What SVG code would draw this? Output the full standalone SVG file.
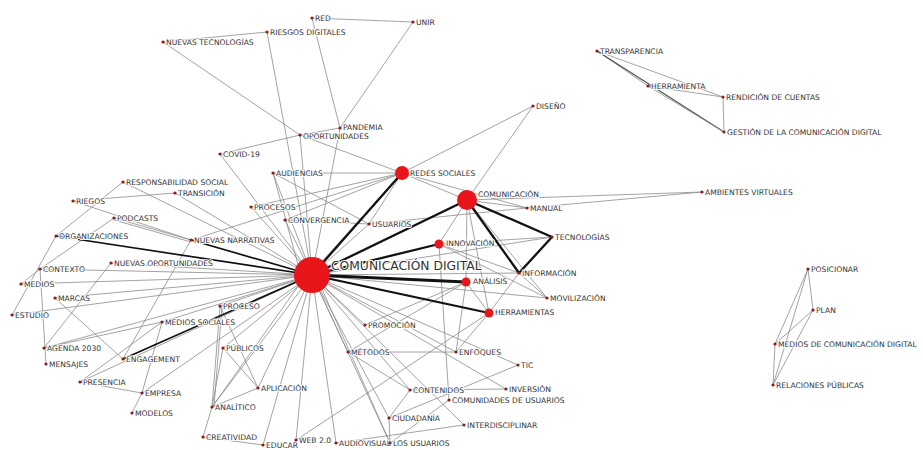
<svg xmlns="http://www.w3.org/2000/svg" width="923" height="450" viewBox="0 0 923 450">
<style>
.t{stroke:#8c8c8c;stroke-width:0.8;fill:none}
.k{stroke:#111;stroke-width:2.3;fill:none}
.g{stroke:#555;stroke-width:1.3;fill:none}
.l{font-family:"DejaVu Sans",Verdana,sans-serif;font-size:7.6px;fill:#333;stroke:#fff;stroke-width:2;paint-order:stroke;stroke-linejoin:round}
.big{font-family:"DejaVu Sans",Verdana,sans-serif;font-size:12.3px;fill:#333;stroke:#fff;stroke-width:2;paint-order:stroke}
.d{fill:#8b1c1c}
.r{fill:#e8161b}
</style>
<rect width="923" height="450" fill="#fff"/>
<g id="connectors">
<line class="t" x1="312" y1="18" x2="413" y2="22"/>
<line class="t" x1="312" y1="18" x2="340" y2="128"/>
<line class="t" x1="413" y1="22" x2="340" y2="128"/>
<line class="t" x1="267" y1="32" x2="163" y2="42"/>
<line class="t" x1="267" y1="32" x2="312" y2="275"/>
<line class="t" x1="163" y1="42" x2="300" y2="135"/>
<line class="t" x1="300" y1="135" x2="340" y2="128"/>
<line class="t" x1="300" y1="135" x2="402" y2="173"/>
<line class="t" x1="300" y1="135" x2="312" y2="275"/>
<line class="t" x1="340" y1="128" x2="312" y2="275"/>
<line class="t" x1="220" y1="154" x2="300" y2="135"/>
<line class="t" x1="220" y1="154" x2="312" y2="275"/>
<line class="t" x1="273" y1="173" x2="402" y2="173"/>
<line class="t" x1="273" y1="173" x2="312" y2="275"/>
<line class="t" x1="273" y1="173" x2="300" y2="272"/>
<line class="t" x1="273" y1="173" x2="369" y2="224"/>
<line class="t" x1="533" y1="106" x2="402" y2="173"/>
<line class="t" x1="533" y1="106" x2="467" y2="200"/>
<line class="t" x1="402" y1="173" x2="467" y2="200"/>
<line class="t" x1="402" y1="173" x2="527" y2="208"/>
<line class="t" x1="402" y1="173" x2="251" y2="207"/>
<line class="t" x1="402" y1="173" x2="285" y2="220"/>
<line class="t" x1="402" y1="173" x2="191" y2="240"/>
<line class="t" x1="402" y1="173" x2="369" y2="224"/>
<line class="t" x1="402" y1="173" x2="316" y2="268"/>
<line class="t" x1="467" y1="200" x2="527" y2="208"/>
<line class="t" x1="467" y1="200" x2="702" y2="192"/>
<line class="t" x1="527" y1="208" x2="702" y2="192"/>
<line class="t" x1="467" y1="200" x2="466" y2="282"/>
<line class="t" x1="467" y1="200" x2="489" y2="313"/>
<line class="t" x1="467" y1="200" x2="547" y2="298"/>
<line class="t" x1="467" y1="200" x2="439" y2="244"/>
<line class="t" x1="439" y1="244" x2="552" y2="237"/>
<line class="t" x1="439" y1="244" x2="519" y2="273"/>
<line class="t" x1="439" y1="244" x2="449" y2="400"/>
<line class="t" x1="439" y1="244" x2="547" y2="298"/>
<line class="t" x1="312" y1="275" x2="552" y2="237"/>
<line class="t" x1="312" y1="275" x2="519" y2="273"/>
<line class="t" x1="312" y1="275" x2="547" y2="298"/>
<line class="t" x1="369" y1="224" x2="527" y2="208"/>
<line class="t" x1="466" y1="282" x2="489" y2="313"/>
<line class="t" x1="466" y1="282" x2="348" y2="352"/>
<line class="t" x1="466" y1="282" x2="456" y2="352"/>
<line class="t" x1="466" y1="282" x2="365" y2="325"/>
<line class="t" x1="489" y1="313" x2="296" y2="440"/>
<line class="t" x1="489" y1="313" x2="456" y2="352"/>
<line class="t" x1="489" y1="313" x2="519" y2="273"/>
<line class="t" x1="519" y1="273" x2="547" y2="298"/>
<line class="t" x1="348" y1="352" x2="456" y2="352"/>
<line class="t" x1="348" y1="352" x2="410" y2="390"/>
<line class="t" x1="348" y1="352" x2="312" y2="275"/>
<line class="t" x1="365" y1="325" x2="312" y2="275"/>
<line class="t" x1="456" y1="352" x2="312" y2="275"/>
<line class="t" x1="518" y1="365" x2="312" y2="275"/>
<line class="t" x1="518" y1="365" x2="389" y2="418"/>
<line class="t" x1="410" y1="390" x2="506" y2="389"/>
<line class="t" x1="410" y1="390" x2="389" y2="418"/>
<line class="t" x1="410" y1="390" x2="312" y2="275"/>
<line class="t" x1="506" y1="389" x2="312" y2="275"/>
<line class="t" x1="449" y1="400" x2="390" y2="443"/>
<line class="t" x1="464" y1="425" x2="312" y2="275"/>
<line class="t" x1="464" y1="425" x2="336" y2="443"/>
<line class="t" x1="389" y1="418" x2="312" y2="275"/>
<line class="t" x1="389" y1="418" x2="390" y2="443"/>
<line class="t" x1="390" y1="443" x2="312" y2="275"/>
<line class="t" x1="390" y1="443" x2="318" y2="280"/>
<line class="t" x1="336" y1="443" x2="312" y2="275"/>
<line class="t" x1="296" y1="440" x2="312" y2="275"/>
<line class="t" x1="263" y1="445" x2="312" y2="275"/>
<line class="t" x1="203" y1="437" x2="263" y2="445"/>
<line class="t" x1="203" y1="437" x2="212" y2="407"/>
<line class="t" x1="123" y1="182" x2="312" y2="275"/>
<line class="t" x1="123" y1="182" x2="56" y2="236"/>
<line class="t" x1="73" y1="201" x2="175" y2="193"/>
<line class="t" x1="73" y1="201" x2="191" y2="240"/>
<line class="t" x1="175" y1="193" x2="312" y2="275"/>
<line class="t" x1="114" y1="218" x2="191" y2="240"/>
<line class="t" x1="114" y1="220" x2="191" y2="242"/>
<line class="t" x1="114" y1="218" x2="40" y2="269"/>
<line class="t" x1="56" y1="236" x2="12" y2="315"/>
<line class="t" x1="191" y1="240" x2="123" y2="359"/>
<line class="t" x1="111" y1="263" x2="312" y2="275"/>
<line class="t" x1="111" y1="263" x2="44" y2="348"/>
<line class="t" x1="40" y1="269" x2="312" y2="275"/>
<line class="t" x1="40" y1="269" x2="21" y2="284"/>
<line class="t" x1="40" y1="269" x2="46" y2="364"/>
<line class="t" x1="21" y1="284" x2="312" y2="275"/>
<line class="t" x1="55" y1="298" x2="312" y2="275"/>
<line class="t" x1="55" y1="298" x2="123" y2="359"/>
<line class="t" x1="12" y1="315" x2="312" y2="275"/>
<line class="t" x1="44" y1="348" x2="162" y2="322"/>
<line class="t" x1="44" y1="348" x2="312" y2="275"/>
<line class="t" x1="162" y1="322" x2="312" y2="275"/>
<line class="t" x1="162" y1="322" x2="142" y2="393"/>
<line class="t" x1="162" y1="322" x2="80" y2="382"/>
<line class="t" x1="80" y1="382" x2="142" y2="393"/>
<line class="t" x1="80" y1="382" x2="312" y2="275"/>
<line class="t" x1="142" y1="393" x2="312" y2="275"/>
<line class="t" x1="142" y1="393" x2="132" y2="413"/>
<line class="t" x1="220" y1="306" x2="312" y2="275"/>
<line class="t" x1="220" y1="306" x2="212" y2="407"/>
<line class="t" x1="222" y1="306" x2="214" y2="407"/>
<line class="t" x1="220" y1="306" x2="258" y2="388"/>
<line class="t" x1="223" y1="348" x2="312" y2="275"/>
<line class="t" x1="223" y1="348" x2="258" y2="388"/>
<line class="t" x1="223" y1="348" x2="212" y2="407"/>
<line class="t" x1="212" y1="407" x2="258" y2="388"/>
<line class="t" x1="212" y1="407" x2="312" y2="275"/>
<line class="t" x1="212" y1="407" x2="304" y2="278"/>
<line class="t" x1="258" y1="388" x2="312" y2="275"/>
<line class="t" x1="251" y1="207" x2="312" y2="275"/>
<line class="t" x1="285" y1="220" x2="312" y2="275"/>
<line class="t" x1="285" y1="220" x2="369" y2="224"/>
<line class="t" x1="369" y1="224" x2="312" y2="275"/>
<line class="t" x1="597" y1="51" x2="648" y2="86"/>
<line class="t" x1="597" y1="51" x2="723" y2="97"/>
<line class="g" x1="597" y1="51" x2="724" y2="132"/>
<line class="t" x1="648" y1="86" x2="723" y2="97"/>
<line class="t" x1="648" y1="86" x2="724" y2="132"/>
<line class="t" x1="723" y1="97" x2="724" y2="132"/>
<line class="t" x1="808" y1="269" x2="813" y2="310"/>
<line class="t" x1="808" y1="269" x2="775" y2="344"/>
<line class="t" x1="808" y1="269" x2="773" y2="385"/>
<line class="t" x1="813" y1="310" x2="775" y2="344"/>
<line class="t" x1="813" y1="310" x2="773" y2="385"/>
<line class="t" x1="775" y1="344" x2="773" y2="385"/>
<line class="k" x1="312" y1="275" x2="402" y2="173"/>
<line class="k" x1="312" y1="275" x2="467" y2="200"/>
<line class="k" x1="312" y1="275" x2="439" y2="244"/>
<line class="k" x1="312" y1="275" x2="466" y2="282" style="stroke-width:3"/>
<line class="k" x1="312" y1="275" x2="489" y2="313"/>
<line class="k" x1="312" y1="275" x2="56" y2="236" style="stroke-width:1.7"/>
<line class="k" x1="312" y1="275" x2="191" y2="240" style="stroke-width:1.7"/>
<line class="k" x1="312" y1="275" x2="123" y2="359" style="stroke-width:1.7"/>
<line class="k" x1="467" y1="200" x2="552" y2="237"/>
<line class="k" x1="467" y1="200" x2="519" y2="273"/>
<line class="k" x1="552" y1="237" x2="519" y2="273"/>
</g>
<g id="n-cd"><circle class="r" cx="312" cy="275" r="18"/><text class="big" x="331" y="270">COMUNICACIÓN DIGITAL</text></g>
<g id="n-redes-sociales"><circle class="r" cx="402" cy="173" r="7"/><text class="l" x="410" y="176">REDES SOCIALES</text></g>
<g id="n-comunicacion"><circle class="r" cx="467" cy="200" r="10"/><text class="l" x="478" y="197">COMUNICACIÓN</text></g>
<g id="n-innovacion"><circle class="r" cx="439" cy="244" r="4.5"/><text class="l" x="446" y="246">INNOVACIÓN</text></g>
<g id="n-analisis"><circle class="r" cx="466" cy="282" r="4.5"/><text class="l" x="473" y="284">ANÁLISIS</text></g>
<g id="n-herramientas"><circle class="r" cx="489" cy="313" r="4.5"/><text class="l" x="495" y="315">HERRAMIENTAS</text></g>
<g id="n-red"><circle class="d" cx="312" cy="18" r="1.6"/><text class="l" x="315" y="21">RED</text></g>
<g id="n-unir"><circle class="d" cx="413" cy="22" r="1.6"/><text class="l" x="416" y="25">UNIR</text></g>
<g id="n-riesgos-digitales"><circle class="d" cx="267" cy="32" r="1.6"/><text class="l" x="270" y="35">RIESGOS DIGITALES</text></g>
<g id="n-nuevas-tecnologias"><circle class="d" cx="163" cy="42" r="1.6"/><text class="l" x="166" y="45">NUEVAS TECNOLOGÍAS</text></g>
<g id="n-pandemia"><circle class="d" cx="340" cy="128" r="1.6"/><text class="l" x="343" y="129.5">PANDEMIA</text></g>
<g id="n-oportunidades"><circle class="d" cx="300" cy="135" r="1.6"/><text class="l" x="303" y="139">OPORTUNIDADES</text></g>
<g id="n-diseno"><circle class="d" cx="533" cy="106" r="1.6"/><text class="l" x="536" y="109">DISEÑO</text></g>
<g id="n-covid"><circle class="d" cx="220" cy="154" r="1.6"/><text class="l" x="223" y="157">COVID-19</text></g>
<g id="n-audiencias"><circle class="d" cx="273" cy="173" r="1.6"/><text class="l" x="276" y="176">AUDIENCIAS</text></g>
<g id="n-responsabilidad"><circle class="d" cx="123" cy="182" r="1.6"/><text class="l" x="126" y="185">RESPONSABILIDAD SOCIAL</text></g>
<g id="n-transicion"><circle class="d" cx="175" cy="193" r="1.6"/><text class="l" x="178" y="196">TRANSICIÓN</text></g>
<g id="n-riegos"><circle class="d" cx="73" cy="201" r="1.6"/><text class="l" x="76" y="204">RIEGOS</text></g>
<g id="n-procesos"><circle class="d" cx="251" cy="207" r="1.6"/><text class="l" x="254" y="210">PROCESOS</text></g>
<g id="n-podcasts"><circle class="d" cx="114" cy="218" r="1.6"/><text class="l" x="117" y="221">PODCASTS</text></g>
<g id="n-convergencia"><circle class="d" cx="285" cy="220" r="1.6"/><text class="l" x="288" y="223">CONVERGENCIA</text></g>
<g id="n-usuarios"><circle class="d" cx="369" cy="224" r="1.6"/><text class="l" x="372" y="227">USUARIOS</text></g>
<g id="n-organizaciones"><circle class="d" cx="56" cy="236" r="1.6"/><text class="l" x="59" y="239">ORGANIZACIONES</text></g>
<g id="n-nuevas-narrativas"><circle class="d" cx="191" cy="240" r="1.6"/><text class="l" x="194" y="243">NUEVAS NARRATIVAS</text></g>
<g id="n-nuevas-oportunidades"><circle class="d" cx="111" cy="263" r="1.6"/><text class="l" x="114" y="266">NUEVAS OPORTUNIDADES</text></g>
<g id="n-contexto"><circle class="d" cx="40" cy="269" r="1.6"/><text class="l" x="43" y="272">CONTEXTO</text></g>
<g id="n-medios"><circle class="d" cx="21" cy="284" r="1.6"/><text class="l" x="24" y="287">MEDIOS</text></g>
<g id="n-marcas"><circle class="d" cx="55" cy="298" r="1.6"/><text class="l" x="58" y="301">MARCAS</text></g>
<g id="n-estudio"><circle class="d" cx="12" cy="315" r="1.6"/><text class="l" x="15" y="318">ESTUDIO</text></g>
<g id="n-proceso"><circle class="d" cx="220" cy="306" r="1.6"/><text class="l" x="223" y="309">PROCESO</text></g>
<g id="n-medios-sociales"><circle class="d" cx="162" cy="322" r="1.6"/><text class="l" x="165" y="325">MEDIOS SOCIALES</text></g>
<g id="n-agenda"><circle class="d" cx="44" cy="348" r="1.6"/><text class="l" x="47" y="351">AGENDA 2030</text></g>
<g id="n-publicos"><circle class="d" cx="223" cy="348" r="1.6"/><text class="l" x="226" y="351">PÚBLICOS</text></g>
<g id="n-engagement"><circle class="d" cx="123" cy="359" r="1.6"/><text class="l" x="126" y="362">ENGAGEMENT</text></g>
<g id="n-mensajes"><circle class="d" cx="46" cy="364" r="1.6"/><text class="l" x="49" y="367">MENSAJES</text></g>
<g id="n-presencia"><circle class="d" cx="80" cy="382" r="1.6"/><text class="l" x="83" y="385">PRESENCIA</text></g>
<g id="n-aplicacion"><circle class="d" cx="258" cy="388" r="1.6"/><text class="l" x="261" y="391">APLICACIÓN</text></g>
<g id="n-empresa"><circle class="d" cx="142" cy="393" r="1.6"/><text class="l" x="145" y="396">EMPRESA</text></g>
<g id="n-analitico"><circle class="d" cx="212" cy="407" r="1.6"/><text class="l" x="215" y="410">ANALÍTICO</text></g>
<g id="n-modelos"><circle class="d" cx="132" cy="413" r="1.6"/><text class="l" x="135" y="416">MODELOS</text></g>
<g id="n-creatividad"><circle class="d" cx="203" cy="437" r="1.6"/><text class="l" x="206" y="440">CREATIVIDAD</text></g>
<g id="n-educar"><circle class="d" cx="263" cy="445" r="1.6"/><text class="l" x="266" y="448">EDUCAR</text></g>
<g id="n-web"><circle class="d" cx="296" cy="440" r="1.6"/><text class="l" x="299" y="443">WEB 2.0</text></g>
<g id="n-audiovisual"><circle class="d" cx="336" cy="443" r="1.6"/><text class="l" x="339" y="446">AUDIOVISUAL</text></g>
<g id="n-los-usuarios"><circle class="d" cx="390" cy="443" r="1.6"/><text class="l" x="393" y="446">LOS USUARIOS</text></g>
<g id="n-manual"><circle class="d" cx="527" cy="208" r="1.6"/><text class="l" x="530" y="211">MANUAL</text></g>
<g id="n-ambientes"><circle class="d" cx="702" cy="192" r="1.6"/><text class="l" x="705" y="195">AMBIENTES VIRTUALES</text></g>
<g id="n-tecnologias"><circle class="d" cx="552" cy="237" r="1.6"/><text class="l" x="555" y="240">TECNOLOGÍAS</text></g>
<g id="n-informacion"><circle class="d" cx="519" cy="273" r="1.6"/><text class="l" x="522" y="276">INFORMACIÓN</text></g>
<g id="n-movilizacion"><circle class="d" cx="547" cy="298" r="1.6"/><text class="l" x="550" y="301">MOVILIZACIÓN</text></g>
<g id="n-promocion"><circle class="d" cx="365" cy="325" r="1.6"/><text class="l" x="368" y="328">PROMOCIÓN</text></g>
<g id="n-metodos"><circle class="d" cx="348" cy="352" r="1.6"/><text class="l" x="351" y="355">MÉTODOS</text></g>
<g id="n-enfoques"><circle class="d" cx="456" cy="352" r="1.6"/><text class="l" x="459" y="355">ENFOQUES</text></g>
<g id="n-tic"><circle class="d" cx="518" cy="365" r="1.6"/><text class="l" x="521" y="368">TIC</text></g>
<g id="n-contenidos"><circle class="d" cx="410" cy="390" r="1.6"/><text class="l" x="413" y="393">CONTENIDOS</text></g>
<g id="n-inversion"><circle class="d" cx="506" cy="389" r="1.6"/><text class="l" x="509" y="392">INVERSIÓN</text></g>
<g id="n-comunidades"><circle class="d" cx="449" cy="400" r="1.6"/><text class="l" x="452" y="403">COMUNIDADES DE USUARIOS</text></g>
<g id="n-ciudadania"><circle class="d" cx="389" cy="418" r="1.6"/><text class="l" x="392" y="421">CIUDADANÍA</text></g>
<g id="n-interdisciplinar"><circle class="d" cx="464" cy="425" r="1.6"/><text class="l" x="467" y="428">INTERDISCIPLINAR</text></g>
<g id="n-transparencia"><circle class="d" cx="597" cy="51" r="1.6"/><text class="l" x="600" y="54">TRANSPARENCIA</text></g>
<g id="n-herramienta"><circle class="d" cx="648" cy="86" r="1.6"/><text class="l" x="651" y="89">HERRAMIENTA</text></g>
<g id="n-rendicion"><circle class="d" cx="723" cy="97" r="1.6"/><text class="l" x="726" y="100">RENDICIÓN DE CUENTAS</text></g>
<g id="n-gestion"><circle class="d" cx="724" cy="132" r="1.6"/><text class="l" x="727" y="135">GESTIÓN DE LA COMUNICACIÓN DIGITAL</text></g>
<g id="n-posicionar"><circle class="d" cx="808" cy="269" r="1.6"/><text class="l" x="811" y="272">POSICIONAR</text></g>
<g id="n-plan"><circle class="d" cx="813" cy="310" r="1.6"/><text class="l" x="816" y="313">PLAN</text></g>
<g id="n-medios-com-digital"><circle class="d" cx="775" cy="344" r="1.6"/><text class="l" x="778" y="347">MEDIOS DE COMUNICACIÓN DIGITAL</text></g>
<g id="n-relaciones"><circle class="d" cx="773" cy="385" r="1.6"/><text class="l" x="776" y="388">RELACIONES PÚBLICAS</text></g>
</svg>
